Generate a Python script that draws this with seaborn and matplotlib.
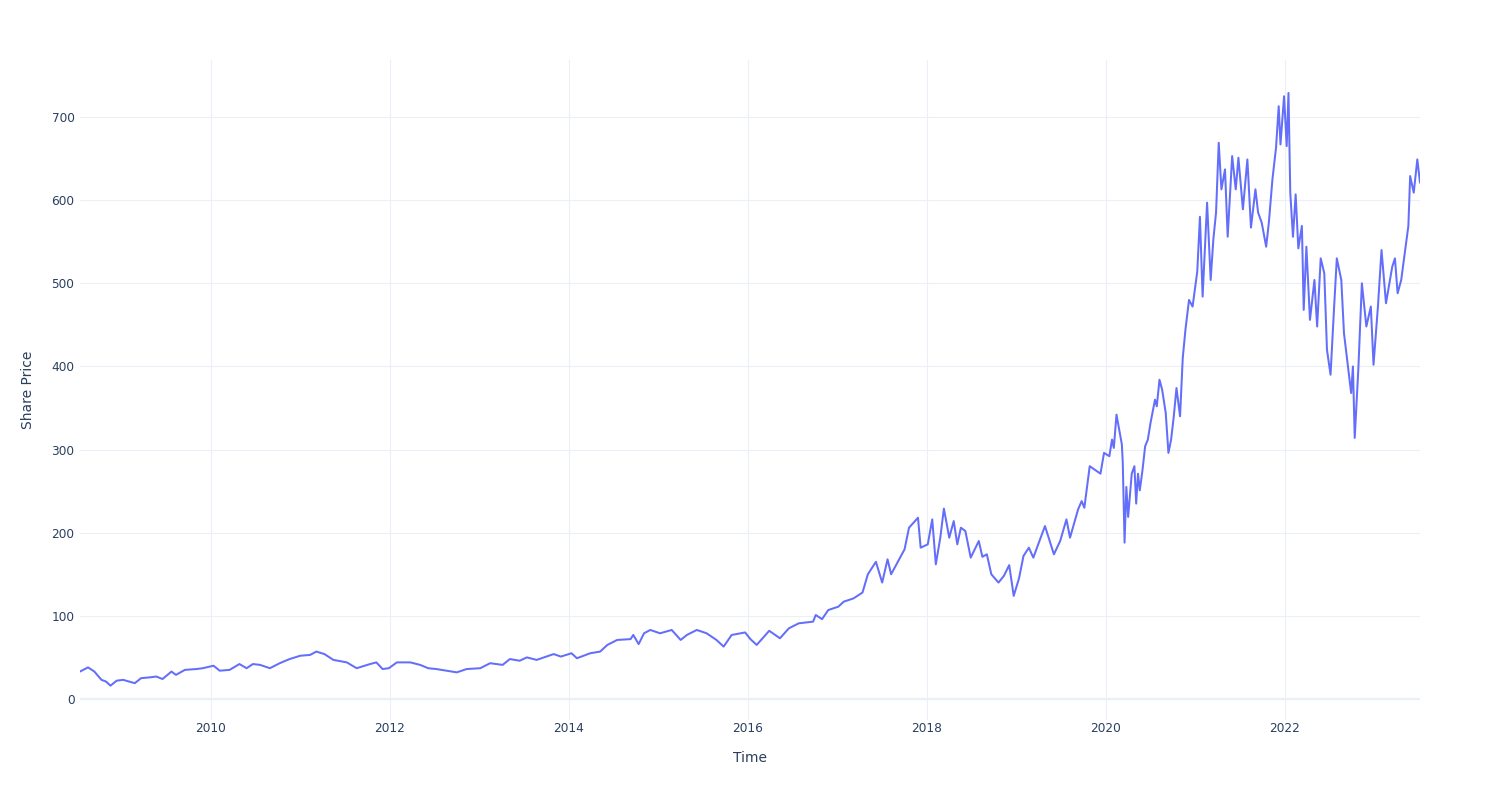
import matplotlib
matplotlib.use("Agg")
import matplotlib.pyplot as plt
import seaborn as sns
import pandas as pd

# Time expressed as decimal years
t_years = [
    2008.54, 2008.63, 2008.70, 2008.78, 2008.83, 2008.88, 2008.95, 2009.02, 2009.15, 2009.22,
    2009.32, 2009.39, 2009.46, 2009.56, 2009.61, 2009.71, 2009.84, 2009.91, 2010.03, 2010.10,
    2010.21, 2010.32, 2010.40, 2010.47, 2010.55, 2010.66, 2010.77, 2010.88, 2011.00, 2011.11,
    2011.18, 2011.27, 2011.37, 2011.52, 2011.63, 2011.78, 2011.85, 2011.92, 2011.99, 2012.08,
    2012.23, 2012.34, 2012.43, 2012.52, 2012.75, 2012.86, 2013.01, 2013.12, 2013.26, 2013.34,
    2013.45, 2013.53, 2013.64, 2013.83, 2013.91, 2014.03, 2014.09, 2014.24, 2014.35, 2014.43,
    2014.54, 2014.69, 2014.72, 2014.78, 2014.84, 2014.91, 2015.02, 2015.15, 2015.25, 2015.32,
    2015.43, 2015.54, 2015.65, 2015.73, 2015.82, 2015.97, 2016.03, 2016.10, 2016.24, 2016.36,
    2016.46, 2016.57, 2016.73, 2016.76, 2016.83, 2016.90, 2017.01, 2017.07, 2017.18, 2017.28,
    2017.34, 2017.43, 2017.50, 2017.56, 2017.60, 2017.66, 2017.75, 2017.80, 2017.90, 2017.93,
    2018.01, 2018.06, 2018.10, 2018.15, 2018.19, 2018.25, 2018.30, 2018.34, 2018.38, 2018.43,
    2018.49, 2018.58, 2018.62, 2018.67, 2018.72, 2018.80, 2018.86, 2018.92, 2018.97, 2019.03,
    2019.08, 2019.14, 2019.19, 2019.32, 2019.42, 2019.49, 2019.56, 2019.60, 2019.69, 2019.73,
    2019.76, 2019.82, 2019.94, 2019.98, 2020.04, 2020.07, 2020.09, 2020.12, 2020.15, 2020.18,
    2020.19, 2020.21, 2020.23, 2020.25, 2020.29, 2020.32, 2020.34, 2020.36, 2020.38, 2020.41,
    2020.44, 2020.47, 2020.50, 2020.55, 2020.57, 2020.60, 2020.63, 2020.67, 2020.70, 2020.73,
    2020.76, 2020.79, 2020.83, 2020.86, 2020.89, 2020.93, 2020.97, 2021.02, 2021.05, 2021.08,
    2021.13, 2021.17, 2021.20, 2021.23, 2021.26, 2021.29, 2021.33, 2021.36, 2021.41, 2021.45,
    2021.48, 2021.53, 2021.58, 2021.62, 2021.67, 2021.70, 2021.74, 2021.79, 2021.82, 2021.86,
    2021.90, 2021.93, 2021.95, 2021.99, 2022.02, 2022.04, 2022.06, 2022.09, 2022.12, 2022.15,
    2022.19, 2022.21, 2022.24, 2022.28, 2022.33, 2022.36, 2022.40, 2022.44, 2022.47, 2022.51,
    2022.55, 2022.58, 2022.63, 2022.66, 2022.70, 2022.74, 2022.76, 2022.78, 2022.82, 2022.86,
    2022.91, 2022.96, 2022.99, 2023.04, 2023.08, 2023.13, 2023.20, 2023.23, 2023.26, 2023.30,
    2023.33, 2023.38, 2023.40, 2023.44, 2023.48, 2023.51,
]
share_price = [
    33, 38, 33, 23, 21, 16, 22, 23, 19, 25,
    26, 27, 24, 33, 29, 35, 36, 37, 40, 34,
    35, 42, 37, 42, 41, 37, 43, 48, 52, 53,
    57, 54, 47, 44, 37, 42, 44, 36, 37, 44,
    44, 41, 37, 36, 32, 36, 37, 43, 41, 48,
    46, 50, 47, 54, 51, 55, 49, 55, 57, 65,
    71, 72, 77, 66, 79, 83, 79, 83, 71, 77,
    83, 79, 71, 63, 77, 80, 72, 65, 82, 73,
    85, 91, 93, 101, 96, 107, 111, 117, 121, 128,
    150, 165, 140, 168, 150, 162, 180, 206, 218, 182,
    186, 216, 162, 194, 229, 194, 214, 186, 206, 202,
    170, 190, 171, 174, 150, 140, 148, 161, 124, 145,
    172, 182, 170, 208, 174, 190, 216, 194, 228, 238,
    230, 280, 271, 296, 292, 312, 302, 342, 324, 306,
    284, 188, 255, 219, 271, 280, 235, 271, 251, 275,
    304, 312, 332, 360, 352, 384, 372, 344, 296, 312,
    340, 374, 340, 410, 444, 480, 472, 514, 580, 484,
    597, 504, 553, 585, 669, 613, 637, 556, 653, 613,
    651, 589, 649, 567, 613, 585, 573, 544, 573, 625,
    663, 713, 667, 725, 665, 729, 609, 556, 607, 542,
    569, 468, 544, 456, 504, 448, 530, 512, 420, 390,
    472, 530, 504, 440, 404, 368, 400, 314, 396, 500,
    448, 472, 402, 472, 540, 476, 520, 530, 488, 504,
    528, 569, 629, 609, 649, 621,
]
y_ticks = [0, 100, 200, 300, 400, 500, 600, 700]
x_tick_years = [2010, 2012, 2014, 2016, 2018, 2020, 2022]


def to_date(t):
    y = int(t)
    return pd.Timestamp(year=y, month=1, day=1) + pd.Timedelta(days=(t - y) * 365.25)


df = pd.DataFrame({"Time": [to_date(t) for t in t_years], "Share Price": share_price})

sns.set_theme(style="white")
plt.rcParams["font.family"] = ["DejaVu Sans"]

fig = plt.figure(figsize=(15, 8), dpi=100)
ax = fig.add_axes([80 / 1500, 80 / 800, 1340 / 1500, 660 / 800])

grid_color = "#EBF0F8"
text_color = "#2a3f5f"

sns.lineplot(data=df, x="Time", y="Share Price", ax=ax, color="#636EFA", linewidth=1.45)

ax.set_xlim(df["Time"].min(), df["Time"].max())
ax.set_ylim(-25.3, 768.6)

ax.set_yticks(y_ticks)
ax.set_yticklabels([str(v) for v in y_ticks])
ax.set_xticks([pd.Timestamp(year=y, month=1, day=1) for y in x_tick_years])
ax.set_xticklabels([str(y) for y in x_tick_years])

ax.grid(True, color=grid_color, linewidth=0.75)
ax.axhline(0, color=grid_color, linewidth=1.6, zorder=0.5)
ax.set_axisbelow(True)
for s in ax.spines.values():
    s.set_visible(False)

ax.tick_params(axis="both", length=0, labelsize=8.7, colors=text_color)
ax.tick_params(axis="y", pad=4)
ax.tick_params(axis="x", pad=1.2)

ax.set_xlabel("Time", fontsize=10, color=text_color, labelpad=12)
ax.set_ylabel("Share Price", fontsize=10, color=text_color, labelpad=12)

fig.savefig("out.png", dpi=100, facecolor="white")
